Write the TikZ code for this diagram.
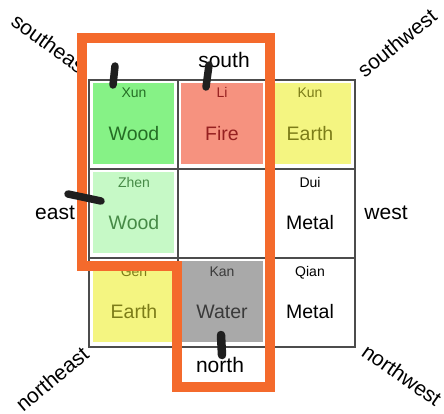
\documentclass[tikz,border=0pt]{standalone}
\usepackage{fontspec}
\setmainfont{Liberation Sans}
\usepackage{tikz}
\definecolor{frameorange}{HTML}{F46A2C}
\definecolor{xunfill}{HTML}{86F286}
\definecolor{zhenfill}{HTML}{C6F9C6}
\definecolor{lifill}{HTML}{F6927F}
\definecolor{earthfill}{HTML}{F4F581}
\definecolor{kanfill}{HTML}{A9A9A9}
\definecolor{woodtext}{HTML}{256E25}
\definecolor{paletext}{HTML}{468A46}
\definecolor{firetext}{HTML}{962020}
\definecolor{earthtext}{HTML}{7C7C18}
\definecolor{watertext}{HTML}{3A3A3A}

\begin{document}
\begin{tikzpicture}[x=1pt,y=-1pt,
    trigram/.style={anchor=base,font=\fontsize{14}{16}\selectfont},
    element/.style={anchor=base,font=\fontsize{19.5}{22}\selectfont},
    compass/.style={font=\fontsize{21}{24}\selectfont},
    gridline/.style={draw=black!70,line width=1.3pt},
    brush/.style={line width=7.5pt,line cap=round,black!88}]
    \useasboundingbox (0,0) rectangle (444,413);

    % corner directions
    \node[compass,rotate=-36] (se) at (51,45) {southeast};
    \node[compass,rotate=39] (sw) at (397,43) {southwest};
    \node[compass,rotate=40] (ne) at (52,379) {northeast};
    \node[compass,rotate=-35] (nw) at (402,375) {northwest};

    % inside of the frame
    \fill[white] (82,38) -- (270,38) -- (270,387) -- (177,387) -- (177,266) -- (82,266) -- cycle;

    % coloured squares
    \fill[xunfill] (93,83) rectangle (174,164);
    \fill[lifill] (181,83) rectangle (263,164);
    \fill[earthfill] (270,83) rectangle (351,164);
    \fill[zhenfill] (93,172) rectangle (174,253);
    \fill[earthfill] (93,261) rectangle (174,342);
    \fill[kanfill] (181,261) rectangle (263,342);

    % grid
    \draw[gridline] (89,80) rectangle (355,347);
    \draw[gridline] (178,80) -- (178,347);
    \draw[gridline] (266,80) -- (266,347);
    \draw[gridline] (89,169) -- (355,169);
    \draw[gridline] (89,258) -- (355,258);

    % trigrams and elements
    \node[trigram,woodtext] (xun) at (134,97) {Xun};
    \node[element,woodtext] (xunel) at (134,140) {Wood};
    \node[trigram,firetext] (li) at (222,97) {Li};
    \node[element,firetext] (liel) at (222,140) {Fire};
    \node[trigram,earthtext] (kun) at (310,97) {Kun};
    \node[element,earthtext] (kunel) at (310,140) {Earth};
    \node[trigram,paletext] (zhen) at (134,187) {Zhen};
    \node[element,paletext] (zhenel) at (134,229) {Wood};
    \node[trigram] (dui) at (310,187) {Dui};
    \node[element] (duiel) at (310,229) {Metal};
    \node[trigram,earthtext] (gen) at (134,276) {Gen};
    \node[element,earthtext] (genel) at (134,318) {Earth};
    \node[trigram,watertext] (kan) at (222,276) {Kan};
    \node[element,watertext] (kanel) at (222,318) {Water};
    \node[trigram] (qian) at (310,276) {Qian};
    \node[element] (qianel) at (310,318) {Metal};

    % cardinal directions
    \node[compass,anchor=base] (south) at (224,67) {south};
    \node[compass,anchor=base] (north) at (220,372) {north};
    \node[compass,anchor=base] (east) at (55,219) {east};
    \node[compass,anchor=base] (west) at (386,219) {west};

    % orange frame
    \draw[frameorange,line width=10.5pt,line join=miter] (82,38) -- (270,38) -- (270,387) -- (177,387) -- (177,266) -- (82,266) -- cycle;

    % brush marks
    \draw[brush] (115,66) -- (113,85);
    \draw[brush] (209,65) -- (206,87);
    \draw[brush] (68,194) -- (101,201);
    \draw[brush,line width=8.5pt] (221,335) -- (222,355);
\end{tikzpicture}
\end{document}
